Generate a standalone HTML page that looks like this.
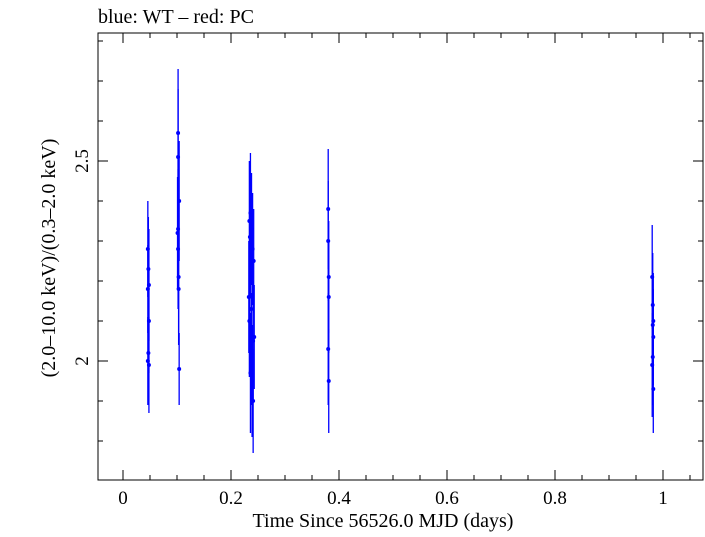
<!DOCTYPE html>
<html><head><meta charset="utf-8"><style>
body{margin:0;background:#fff}
svg text{font-family:"Liberation Serif",serif;fill:#000}
</style></head><body>
<svg id="c" width="705" height="532" xmlns="http://www.w3.org/2000/svg">
<text x="98" y="23" font-size="20">blue: WT – red: PC</text>
<rect x="98" y="33" width="605" height="447" fill="none" stroke="#000" stroke-width="1"/>
<g id="ticks"></g>
<g id="marks"></g>
<text x="383" y="527" font-size="20" text-anchor="middle">Time Since 56526.0 MJD (days)</text>
<text transform="translate(55,258) rotate(-90)" font-size="20" text-anchor="middle">(2.0–10.0 keV)/(0.3–2.0 keV)</text>
</svg>
<script>
const times=[0.046,0.047,0.048,0.046,0.048,0.047,0.046,0.048,0.102,0.102,0.104,0.102,0.101,0.102,0.103,0.103,0.104,0.234,0.236,0.238,0.235,0.240,0.242,0.233,0.237,0.234,0.243,0.241,0.238,0.236,0.239,0.241,0.380,0.380,0.381,0.381,0.380,0.381,0.980,0.981,0.982,0.981,0.982,0.981,0.980,0.982];
const ratios=[2.28,2.23,2.19,2.18,2.10,2.02,2.00,1.99,2.57,2.51,2.40,2.33,2.32,2.28,2.21,2.18,1.98,2.35,2.37,2.33,2.31,2.28,2.25,2.16,2.13,2.10,2.06,2.05,2.03,1.97,1.95,1.90,2.38,2.30,2.21,2.16,2.03,1.95,2.21,2.14,2.10,2.09,2.06,2.01,1.99,1.93];
const errors=[0.12,0.13,0.14,0.11,0.13,0.12,0.11,0.12,0.16,0.17,0.15,0.15,0.14,0.15,0.14,0.14,0.09,0.15,0.15,0.14,0.15,0.14,0.13,0.14,0.15,0.14,0.13,0.15,0.14,0.15,0.14,0.13,0.15,0.15,0.14,0.14,0.14,0.13,0.13,0.13,0.12,0.12,0.12,0.12,0.13,0.11];
const xTicks=[0,0.2,0.4,0.6,0.8,1];
const xTickLabels=["0","0.2","0.4","0.6","0.8","1"];
const yTicks=[2,2.5];
const yTickLabels=["2","2.5"];
const X=v=>123+v*540, Y=v=>361-(v-2)*400;
const NS="http://www.w3.org/2000/svg";
function mk(t,a,p){const e=document.createElementNS(NS,t);for(const k in a)e.setAttribute(k,a[k]);p.appendChild(e);return e;}
const tk=document.getElementById('ticks'), mg=document.getElementById('marks');
for(let v=-0.05;v<=1.08;v+=0.05){const x=X(v);if(x<98||x>703)continue;const major=Math.abs(v*5-Math.round(v*5))<1e-6;const L=major?10:5;
 const a=mk('line',{x1:x,x2:x,y1:480,y2:480-L,stroke:'#000'},tk);
 const b=mk('line',{x1:x,x2:x,y1:33,y2:33+L,stroke:'#000'},tk);}
xTicks.forEach((v,i)=>{const t=mk('text',{x:X(v),y:504,'font-size':19,'text-anchor':'middle'},tk);t.textContent=xTickLabels[i];
 });
for(let k=17;k<=28;k++){const v=k/10;const y=Y(v);if(y<33||y>480)continue;const major=k%5==0;const L=major?10:5;
 const a=mk('line',{x1:98,x2:98+L,y1:y,y2:y,stroke:'#000'},tk);
 const b=mk('line',{x1:703,x2:703-L,y1:y,y2:y,stroke:'#000'},tk);}
yTicks.forEach((v,i)=>{const t=mk('text',{transform:`translate(88,${Y(v)}) rotate(-90)`,'font-size':19,'text-anchor':'middle'},tk);t.textContent=yTickLabels[i];
 });
times.forEach((t,i)=>{const x=X(t),y=Y(ratios[i]);
 const e=mk('line',{x1:x,x2:x,y1:Y(ratios[i]+errors[i]),y2:Y(ratios[i]-errors[i]),stroke:'#0000ff','stroke-width':1.3},mg);
 
 const c=mk('circle',{cx:x,cy:y,r:2,fill:'#0000ff'},mg);
 });
</script>
</body></html>
